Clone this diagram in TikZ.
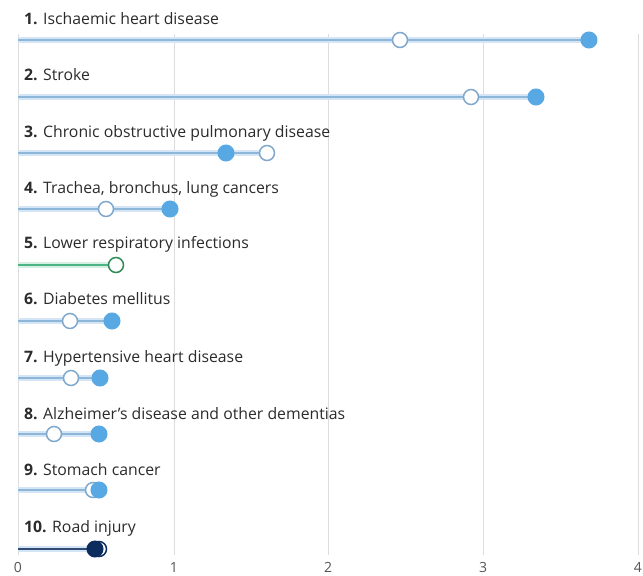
\documentclass[tikz,border=0pt]{standalone}
\usepackage{fontspec}
\setmainfont{Open Sans}
\usetikzlibrary{backgrounds}
\definecolor{gridc}{HTML}{DDDDDD}
\definecolor{haloc}{HTML}{D4E6F5}
\definecolor{linec}{HTML}{8DB6D9}
\definecolor{fillc}{HTML}{58A8E4}
\definecolor{openc}{HTML}{7FA8CC}
\definecolor{greenl}{HTML}{4DB585}
\definecolor{greenh}{HTML}{D5EFE3}
\definecolor{greenc}{HTML}{2E8B57}
\definecolor{navyc}{HTML}{0D2C5E}
\definecolor{txtc}{HTML}{2B2B2B}
\tikzset{
  filledpt/.style={circle,fill=fillc,draw=fillc,line width=1pt,minimum size=16pt,inner sep=0pt},
  openpt/.style={circle,fill=white,draw=openc,line width=1.5pt,minimum size=15pt,inner sep=0pt},
  halo/.style={haloc,line width=6pt},
  barline/.style={linec,line width=1.6pt},
  rowlabel/.style={anchor=base west,inner sep=0pt,font=\fontsize{15.8}{18}\selectfont,text=txtc},
  axlabel/.style={anchor=base,inner sep=0pt,font=\fontsize{14}{16}\selectfont,text=txtc!80},
  gridline/.style={gridc,line width=1pt}
}
\begin{document}
\begin{tikzpicture}[x=1pt,y=-1pt]
\useasboundingbox (0,0) rectangle (643,576);
% axis labels
\node[axlabel] (a0) at (18,572) {0};
\node[axlabel] (a1) at (174,572) {1};
\node[axlabel] (a2) at (328,572) {2};
\node[axlabel] (a3) at (483,572) {3};
\node[axlabel,anchor=base east] (a4) at (642,572) {4};
% row labels
\node[rowlabel] (l1) at (24,24.5) {\textbf{1.} Ischaemic heart disease};
\node[rowlabel] (l2) at (24,80.5) {\textbf{2.} Stroke};
\node[rowlabel] (l3) at (24,137.5) {\textbf{3.} Chronic obstructive pulmonary disease};
\node[rowlabel] (l4) at (24,193.5) {\textbf{4.} Trachea, bronchus, lung cancers};
\node[rowlabel] (l5) at (24,248.5) {\textbf{5.} Lower respiratory infections};
\node[rowlabel] (l6) at (24,304.5) {\textbf{6.} Diabetes mellitus};
\node[rowlabel] (l7) at (24,362.5) {\textbf{7.} Hypertensive heart disease};
\node[rowlabel] (l8) at (24,419.5) {\textbf{8.} Alzheimer’s disease and other dementias};
\node[rowlabel] (l9) at (24,475.5) {\textbf{9.} Stomach cancer};
\node[rowlabel] (l10) at (24,532.5) {\textbf{10.} Road injury};
% start coordinates
\foreach \i/\y in {1/40,2/97,3/153,4/209,5/265,6/321,7/378,8/434,9/490,10/549}
  \coordinate (s\i) at (18,\y);
% points: open then filled
\node[openpt] (o1) at (400,40) {};
\node[filledpt] (f1) at (589,40) {};
\node[openpt] (o2) at (471,97) {};
\node[filledpt] (f2) at (536,97) {};
\node[openpt] (o3) at (267,153) {};
\node[filledpt] (f3) at (226,153) {};
\node[openpt] (o4) at (106,209) {};
\node[filledpt] (f4) at (170,209) {};
\node[openpt,draw=greenc] (o5) at (116,265) {};
\node[openpt] (o6) at (70,321) {};
\node[filledpt] (f6) at (112,321) {};
\node[openpt] (o7) at (71,378) {};
\node[filledpt] (f7) at (100,378) {};
\node[openpt] (o8) at (54,434) {};
\node[filledpt] (f8) at (99,434) {};
\node[openpt] (o9) at (93,490) {};
\node[filledpt] (f9) at (99,490) {};
\node[openpt,draw=navyc] (o10) at (99,549) {};
\node[filledpt,fill=navyc,draw=navyc] (f10) at (95,549) {};
\begin{scope}[on background layer]
  % grid
  \foreach \x in {18,174,328,483,638}
    \draw[gridline] (\x,34) -- (\x,555);
  % bars
  \foreach \i/\e in {1/f1,2/f2,3/o3,4/f4,6/f6,7/f7,8/f8,9/f9}{
    \draw[halo] (s\i) -- (\e.center);
    \draw[barline] (s\i) -- (\e.center);
  }
  \draw[greenh,line width=6pt] (s5) -- (o5.center);
  \draw[greenl,line width=1.8pt] (s5) -- (o5.center);
  \draw[haloc,line width=6pt] (s10) -- (o10.center);
  \draw[navyc!85,line width=1.8pt] (s10) -- (o10.center);
\end{scope}
\end{tikzpicture}
\end{document}
